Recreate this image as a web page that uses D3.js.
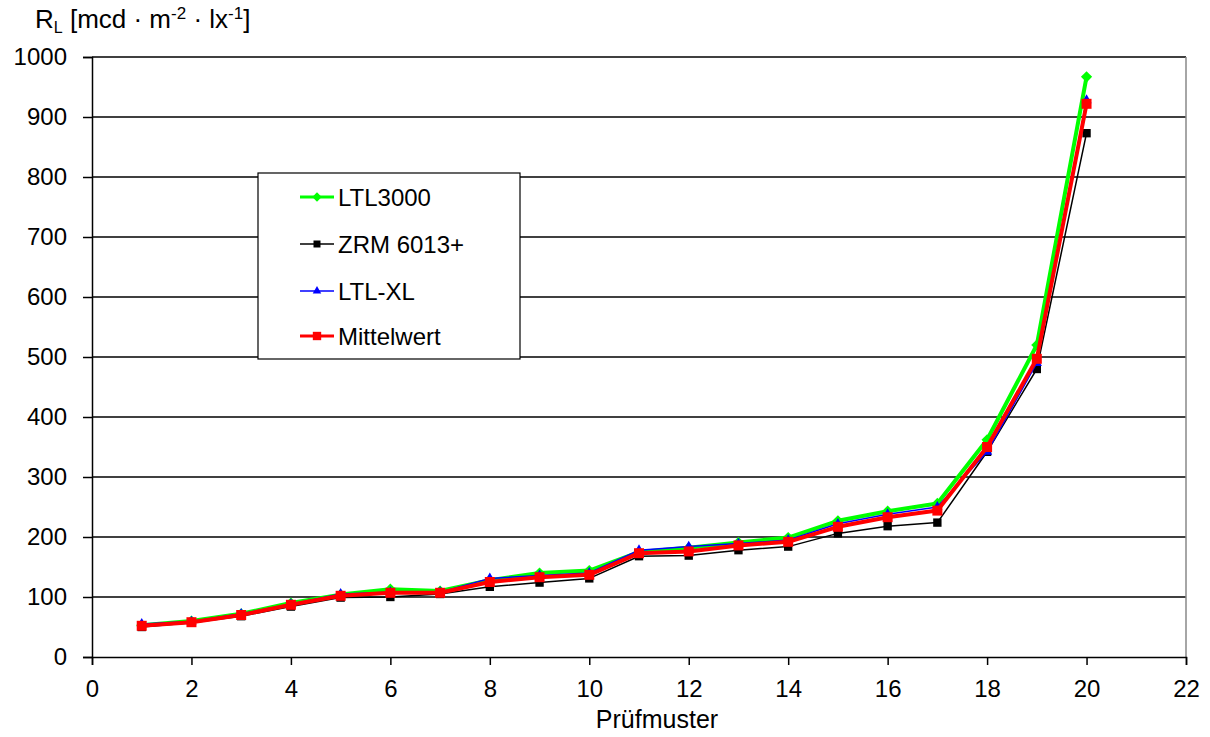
<!DOCTYPE html>
<html><head><meta charset="utf-8">
<script src="https://cdn.jsdelivr.net/npm/d3@7"></script>
<style>body{margin:0;background:#fff}svg{display:block}text{font-family:"Liberation Sans",Arial,sans-serif}</style>
</head><body>
<script>
const samples = d3.range(1, 21);
const ltl3000 = [53,60,72,90,104,113,110,128,140,144,175,182,191,199,227,243,256,362,520,967];
const zrm6013 = [50,57,68,84,99,100,105,117,124,131,168,169,178,184,206,218,224,342,480,873];
const ltlxl   = [55,59,72,88,105,108,108,131,136,140,178,184,189,195,222,238,250,342,490,928];
const mittel  = [52,58,70,87,102,107,107,125,133,137,173,176,186,192,217,233,244,350,497,922];
const xTicks = d3.range(0, 23, 2);
const yTicks = d3.range(0, 1001, 100);
const seriesNames = ["LTL3000","ZRM 6013+","LTL-XL","Mittelwert"];

const W=1210,H=737;
const svg=d3.select("body").append("svg").attr("width",W).attr("height",H);
const x=d3.scaleLinear().domain([0,22]).range([92,1186]);
const y=d3.scaleLinear().domain([0,1000]).range([657,57]);

// gridlines
svg.append("g").selectAll("line").data(yTicks.filter(d=>d>0)).join("line")
 .attr("x1",92).attr("x2",1186).attr("y1",d=>y(d)).attr("y2",d=>y(d))
 .attr("stroke","#000").attr("stroke-width",1.5);
// right border
svg.append("line").attr("x1",1186).attr("x2",1186).attr("y1",57).attr("y2",657).attr("stroke","#888").attr("stroke-width",1.5);

const yAxis=d3.axisLeft(y).tickValues(yTicks).tickSize(9).tickPadding(16).tickFormat(d3.format("d"));
const gy=svg.append("g").attr("transform","translate(92,0)").call(yAxis);
const xAxis=d3.axisBottom(x).tickValues(xTicks).tickSize(8).tickPadding(15).tickFormat(d3.format("d"));
const gx=svg.append("g").attr("transform","translate(0,657)").call(xAxis);
[gy,gx].forEach(g=>{
  g.select(".domain").attr("stroke","#000").attr("stroke-width",1.5);
  g.selectAll(".tick line").attr("stroke","#000").attr("stroke-width",1.5);
  g.selectAll(".tick text").attr("fill","#000").style("font-size","24px").style("font-family","'Liberation Sans',Arial,sans-serif");
});
gx.selectAll(".tick text").attr("dy","0.71em");

// titles
const t=svg.append("text").attr("x",35).attr("y",28).style("font-size","26px");
t.append("tspan").text("R");
t.append("tspan").attr("dy",5).style("font-size","16px").text("L");
t.append("tspan").attr("dy",-5).text(" [mcd · m");
t.append("tspan").attr("dy",-9).style("font-size","17px").text("-2");
t.append("tspan").attr("dy",9).text(" · lx");
t.append("tspan").attr("dy",-9).style("font-size","17px").text("-1");
t.append("tspan").attr("dy",9).text("]");
svg.append("text").attr("x",657).attr("y",728).attr("text-anchor","middle").style("font-size","25px").text("Prüfmuster");

const series=[
 {name:seriesNames[0],vals:ltl3000,color:"#00ff00",w:4,marker:"diamond",ms:80},
 {name:seriesNames[1],vals:zrm6013,color:"#000000",w:1.5,marker:"square",ms:70},
 {name:seriesNames[2],vals:ltlxl,color:"#0000ff",w:1.5,marker:"triangle",ms:45},
 {name:seriesNames[3],vals:mittel,color:"#ff0000",w:4,marker:"square",ms:100},
];
const sym={diamond:d3.symbolDiamond2,square:d3.symbolSquare,triangle:d3.symbolTriangle};
const line=d3.line().x((d,i)=>x(samples[i])).y(d=>y(d));
series.forEach(s=>{
  const g=svg.append("g");
  g.append("path").datum(s.vals).attr("d",line).attr("fill","none").attr("stroke",s.color).attr("stroke-width",s.w).attr("stroke-linejoin","round");
  g.selectAll("path.m").data(s.vals).join("path").attr("class","m")
   .attr("transform",(d,i)=>`translate(${x(samples[i])},${y(d)})`)
   .attr("d",d3.symbol().type(sym[s.marker]).size(s.ms)).attr("fill",s.color);
});

// legend
const lg=svg.append("g");
lg.append("rect").attr("x",258).attr("y",173).attr("width",262).attr("height",186).attr("fill","#fff").attr("stroke","#000").attr("stroke-width",1.2);
const rows=[197,244,291,336];
series.forEach((s,i)=>{
  lg.append("line").attr("x1",300).attr("x2",334).attr("y1",rows[i]).attr("y2",rows[i]).attr("stroke",s.color).attr("stroke-width",s.w===4?3:1.5);
  lg.append("path").attr("transform",`translate(317,${rows[i]})`).attr("d",d3.symbol().type(sym[s.marker]).size(s.ms*0.7)).attr("fill",s.color);
  lg.append("text").attr("x",338).attr("y",rows[i]).attr("dy","0.36em").style("font-size","24px").text(s.name);
});
</script>
</body></html>
